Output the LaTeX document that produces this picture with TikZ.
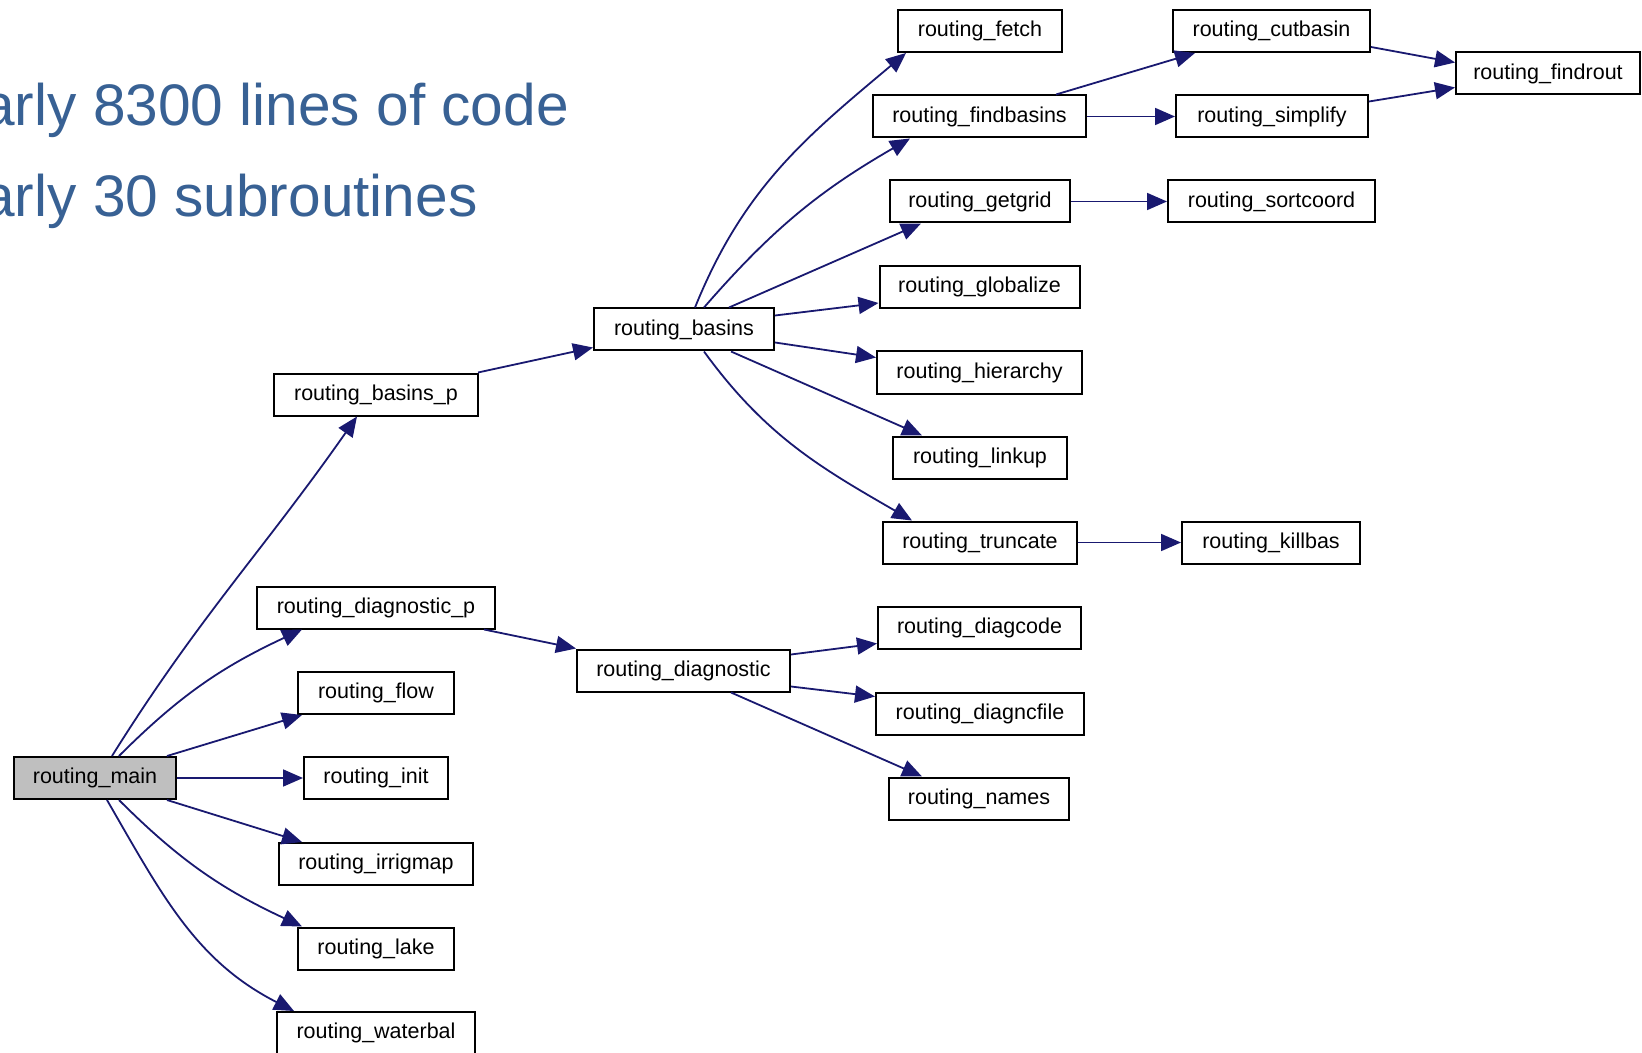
\documentclass[tikz,border=0pt]{standalone}
\usepackage{fontspec}
\setmainfont{Liberation Sans}
\usetikzlibrary{arrows.meta,calc}
\definecolor{edgeblue}{RGB}{25,25,112}
\definecolor{titleblue}{RGB}{56,97,148}
\definecolor{maingray}{RGB}{191,191,191}
\begin{document}
\begin{tikzpicture}[x=0.5pt,y=0.5pt,
  fn/.style={draw=black, line width=1pt, fill=white, minimum height=21pt,
             minimum width=#1, inner sep=0pt,
             font=\fontsize{10.75}{12}\selectfont},
  call/.style={draw=edgeblue, line width=0.9pt,
               -{Triangle[length=10pt,width=8.5pt]}},
  headline/.style={anchor=base west, inner sep=0pt, text=titleblue,
                   font=\fontsize{29.3}{34}\selectfont}]
\useasboundingbox (0,0) rectangle (1642,-1053);
\clip (0,0) rectangle (1642,-1053);

% headline text
\node[headline] (l1) at (-18,-126) {arly 8300 lines of code};
\node[headline] (l2) at (-18,-217) {arly 30 subroutines};

% call graph nodes
\node[fn=81pt, fill=maingray] (main) at (95,-778) {routing\_main};

\node[fn=102pt] (basinsp)  at (376,-394.5) {routing\_basins\_p};
\node[fn=119pt] (diagp)    at (376,-607.5) {routing\_diagnostic\_p};
\node[fn=78pt]  (flow)     at (376,-693)   {routing\_flow};
\node[fn=72pt]  (init)     at (376,-778)   {routing\_init};
\node[fn=97pt]  (irrig)    at (376,-864)   {routing\_irrigmap};
\node[fn=78pt]  (lake)     at (376,-948.5) {routing\_lake};
\node[fn=99pt]  (waterbal) at (376,-1033)  {routing\_waterbal};

\node[fn=90pt]    (basins) at (684,-329.5)   {routing\_basins};
\node[fn=106.5pt] (diag)   at (683.5,-670.5) {routing\_diagnostic};

\node[fn=82pt]    (fetch)     at (980,-31)     {routing\_fetch};
\node[fn=106.5pt] (findbas)   at (979.5,-116.5) {routing\_findbasins};
\node[fn=90pt]    (getgrid)   at (980,-201.5)  {routing\_getgrid};
\node[fn=100pt]   (global)    at (979.5,-287)  {routing\_globalize};
\node[fn=102.5pt] (hier)      at (979.5,-372.5) {routing\_hierarchy};
\node[fn=87pt]    (linkup)    at (980,-457.5)  {routing\_linkup};
\node[fn=97pt]    (trunc)     at (980,-542.5)  {routing\_truncate};
\node[fn=101.5pt] (diagcode)  at (979.5,-627.5) {routing\_diagcode};
\node[fn=104pt]   (diagnc)    at (980,-713.5)  {routing\_diagncfile};
\node[fn=90pt]    (names)     at (979,-798.5)  {routing\_names};

\node[fn=98.5pt]  (cutbasin)  at (1271.5,-31)   {routing\_cutbasin};
\node[fn=96pt]    (simplify)  at (1272,-116.5)  {routing\_simplify};
\node[fn=103.5pt] (sortcoord) at (1271.5,-201.5) {routing\_sortcoord};
\node[fn=89pt]    (killbas)   at (1271,-542.5)  {routing\_killbas};

\node[fn=92pt]    (findrout)  at (1548,-73.5)   {routing\_findrout};

% calls from routing_main
\draw[call] ($(main.north west)+(99,0)$) to[out=58,in=235] ($(basinsp.south west)+(84,0)$);
\draw[call] ($(main.north west)+(106,0)$) to[out=45,in=205] ($(diagp.south west)+(46,0)$);
\draw[call] ($(main.north west)+(154,0)$) -- ($(flow.south west)+(5,0)$);
\draw[call] (main.east) -- (init.west);
\draw[call] ($(main.south west)+(154,0)$) -- ($(irrig.north west)+(24,0)$);
\draw[call] ($(main.south west)+(106,0)$) to[out=-45,in=155] ($(lake.north west)+(5,0)$);
\draw[call] ($(main.south west)+(94,0)$) to[out=-60,in=153] ($(waterbal.north west)+(18,0)$);

% second level
\draw[call] ($(basinsp.north east)+(-1,0)$) -- ($(basins.south west)+(0,4)$);
\draw[call] ($(diagp.south east)+(-12,0)$) -- (diag.north west);

% calls from routing_basins
\draw[call] ($(basins.north west)+(102,0)$) to[out=68,in=220] ($(fetch.south west)+(9,0)$);
\draw[call] ($(basins.north west)+(111,0)$) to[out=49,in=210] ($(findbas.south west)+(38,0)$);
\draw[call] ($(basins.north west)+(136,0)$) -- ($(getgrid.south west)+(32,0)$);
\draw[call] ($(basins.north east)+(0,-8)$) -- ($(global.south west)+(0,6)$);
\draw[call] ($(basins.south east)+(0,9)$) -- ($(hier.north west)+(0,-7)$);
\draw[call] ($(basins.south west)+(138,0)$) -- ($(linkup.north west)+(30,0)$);
\draw[call] ($(basins.south west)+(111,0)$) to[out=-54,in=150] ($(trunc.north west)+(30,0)$);

% calls from routing_diagnostic
\draw[call] ($(diag.north east)+(0,-6)$) -- ($(diagcode.south west)+(0,6)$);
\draw[call] ($(diag.south east)+(0,6)$) -- ($(diagnc.north west)+(0,-5)$);
\draw[call] ($(diag.south west)+(155,0)$) -- ($(names.north west)+(34,0)$);

% deeper calls
\draw[call] ($(findbas.north west)+(184,0)$) -- ($(cutbasin.south west)+(23,0)$);
\draw[call] (findbas.east) -- (simplify.west);
\draw[call] ($(cutbasin.south east)+(0,6)$) -- ($(findrout.north west)+(0,-11)$);
\draw[call] ($(simplify.north east)+(0,-7)$) -- ($(findrout.south west)+(0,8)$);
\draw[call] (getgrid.east) -- (sortcoord.west);
\draw[call] (trunc.east) -- (killbas.west);
\end{tikzpicture}
\end{document}
